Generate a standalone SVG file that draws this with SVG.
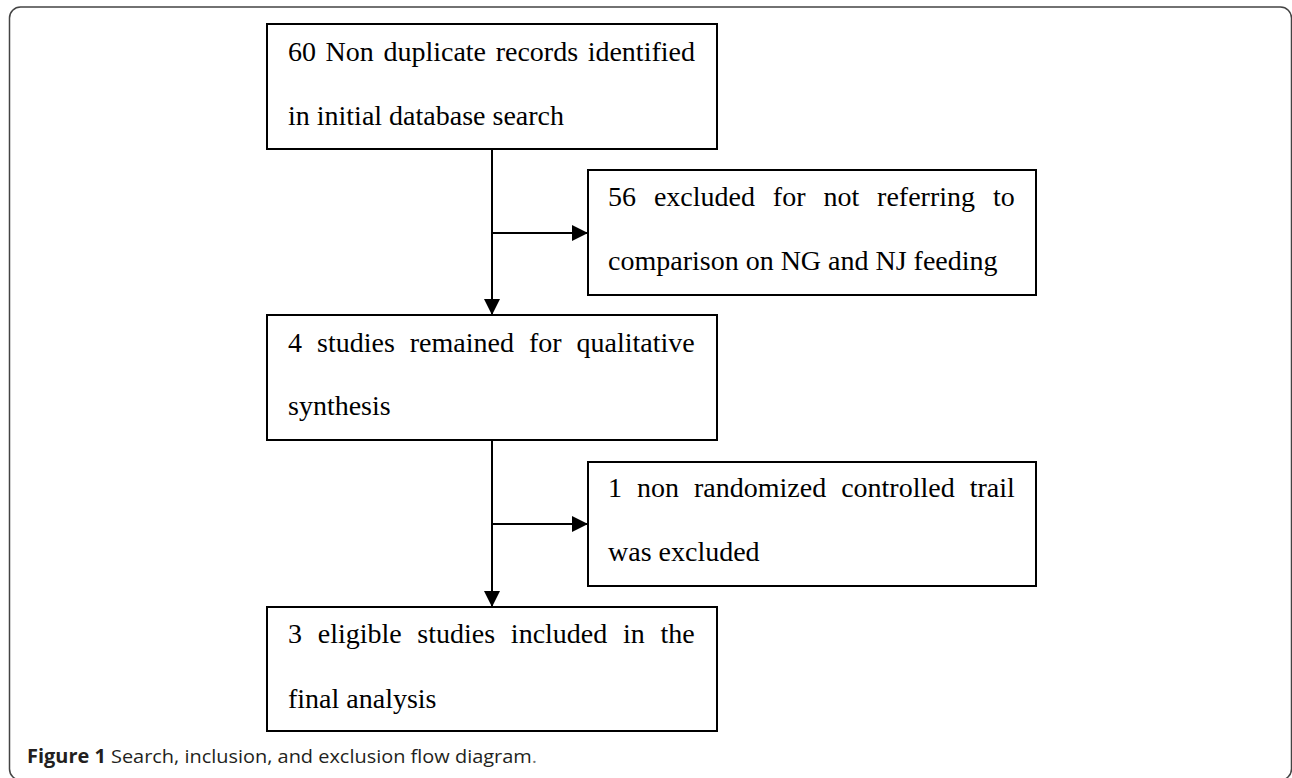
<svg xmlns="http://www.w3.org/2000/svg" width="1292" height="778" viewBox="0 0 1292 778">
  <defs>
    <marker id="arrow" markerWidth="16" markerHeight="16" refX="16" refY="8" orient="auto" markerUnits="userSpaceOnUse">
      <path d="M0,0 L16,8 L0,16 Z" fill="#000"/>
    </marker>
    <style>
      .box { fill: #fff; stroke: #000; stroke-width: 2; }
      .t { font-family: "Liberation Serif", "Times New Roman", serif; font-size: 28px; fill: #000; }
      .conn { fill: none; stroke: #000; stroke-width: 2; }
      .frame { fill: none; stroke: #444; stroke-width: 1.5; }
      .cap { font-family: "Open Sans", "Liberation Sans", sans-serif; font-size: 19px; fill: #231f20; }
    </style>
  </defs>
  <rect width="1292" height="778" fill="#fff"/>
  <rect class="frame" x="9.5" y="7" width="1282" height="773" rx="11" ry="11"/>

  <g id="connectors">
    <line class="conn" x1="492" y1="149" x2="492" y2="315" marker-end="url(#arrow)"/>
    <line class="conn" x1="492" y1="233" x2="588" y2="233" marker-end="url(#arrow)"/>
    <line class="conn" x1="492" y1="440" x2="492" y2="607" marker-end="url(#arrow)"/>
    <line class="conn" x1="492" y1="524" x2="588" y2="524" marker-end="url(#arrow)"/>
  </g>

  <g id="node1">
    <rect class="box" x="267" y="24" width="450" height="125"/>
    <text class="t" x="288" y="61" word-spacing="2.6">60 Non duplicate records identified</text>
    <text class="t" x="288" y="125">in initial database search</text>
  </g>

  <g id="node2">
    <rect class="box" x="588" y="170" width="448" height="125"/>
    <text class="t" x="608" y="206" word-spacing="10.9">56 excluded for not referring to</text>
    <text class="t" x="608" y="270">comparison on NG and NJ feeding</text>
  </g>

  <g id="node3">
    <rect class="box" x="267" y="315" width="450" height="125"/>
    <text class="t" x="288" y="352" word-spacing="8">4 studies remained for qualitative</text>
    <text class="t" x="288" y="415">synthesis</text>
  </g>

  <g id="node4">
    <rect class="box" x="588" y="462" width="448" height="124"/>
    <text class="t" x="608" y="497" word-spacing="8">1 non randomized controlled trail</text>
    <text class="t" x="608" y="561">was excluded</text>
  </g>

  <g id="node5">
    <rect class="box" x="267" y="607" width="450" height="124"/>
    <text class="t" x="288" y="643" word-spacing="8.7">3 eligible studies included in the</text>
    <text class="t" x="288" y="708">final analysis</text>
  </g>

  <text class="cap" x="27" y="763" textLength="510" lengthAdjust="spacingAndGlyphs"><tspan font-weight="bold">Figure 1</tspan> Search, inclusion, and exclusion flow diagram<tspan fill="#777">.</tspan></text>
</svg>
